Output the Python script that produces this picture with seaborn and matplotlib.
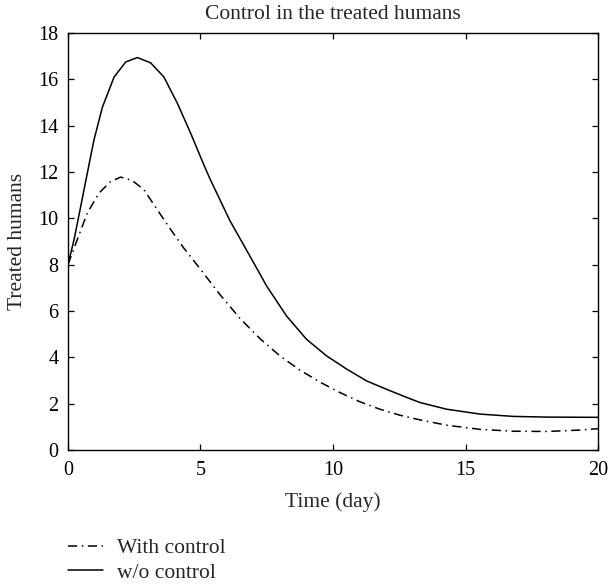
import matplotlib
matplotlib.use("Agg")
from matplotlib import pyplot as plt
import pandas as pd
import seaborn as sns

sns.set_style("ticks")
plt.rcParams["font.family"] = ["Liberation Serif", "DejaVu Serif"]

# values
with_time = [0, 0.35, 0.73, 1.17, 1.61, 1.99, 2.43, 2.87, 3.37, 3.88, 4.38, 5.0, 5.74,
             6.49, 7.25, 8.0, 8.75, 9.51, 10.26, 11.02, 11.77, 12.53, 13.28, 14.29,
             15.55, 16.8, 18.06, 19.32, 20]
with_control = [8.0, 9.08, 10.23, 11.09, 11.59, 11.78, 11.63, 11.23, 10.37, 9.51, 8.7, 7.8, 6.7,
                5.68, 4.8, 4.06, 3.45, 2.93, 2.48, 2.08, 1.76, 1.5, 1.3, 1.07,
                0.89, 0.81, 0.8, 0.86, 0.92]
without_time = [0, 0.23, 0.48, 0.73, 0.98, 1.30, 1.74, 2.18, 2.62, 3.12, 3.62, 4.13, 4.63,
                5.13, 5.36, 6.11, 6.87, 7.5, 8.25, 9.0, 9.76, 10.52, 11.27, 12.02, 12.78,
                13.28, 14.29, 15.55, 16.8, 18.06, 20]
without_control = [8.0, 9.08, 10.51, 11.95, 13.38, 14.8, 16.1, 16.75, 16.94, 16.71, 16.1, 14.96, 13.67,
                   12.3, 11.7, 9.9, 8.36, 7.07, 5.78, 4.78, 4.06, 3.49, 2.98, 2.62, 2.27,
                   2.05, 1.76, 1.55, 1.45, 1.42, 1.41]
x_ticks = [0, 5, 10, 15, 20]
y_ticks = [0, 2, 4, 6, 8, 10, 12, 14, 16, 18]

df_with = pd.DataFrame({"time": with_time, "value": with_control})
df_without = pd.DataFrame({"time": without_time, "value": without_control})

fig = plt.figure(figsize=(6.08, 5.87), dpi=100)
ax = fig.add_axes([0.1118, 0.2334, 0.8718, 0.7104])

sns.lineplot(data=df_with, x="time", y="value", color="black", linewidth=1.1,
             label="With control", ax=ax)
sns.lineplot(data=df_without, x="time", y="value", color="black", linewidth=1.1,
             label="w/o control", ax=ax)
ax.lines[0].set_dashes([6, 3, 1, 3])

ax.set_xlim(0, 20)
ax.set_ylim(0, 18)
ax.set_xticks(x_ticks)
ax.set_yticks(y_ticks)
ax.tick_params(direction="in", length=4, width=0.9, top=True, right=True,
               labelsize=14.5, colors="black")
ax.tick_params(axis="x", pad=8)
ax.tick_params(axis="y", pad=7)
for s in ax.spines.values():
    s.set_linewidth(1.0)
    s.set_color("black")

ax.set_title("Control in the treated humans", fontsize=15.5, pad=10)
ax.set_xlabel("Time (day)", fontsize=15.5, labelpad=9)
ax.set_ylabel("Treated humans", fontsize=15.5, labelpad=8)

ax.legend(loc="upper left", bbox_to_anchor=(0.1118, 0.083), bbox_transform=fig.transFigure,
          frameon=False, fontsize=15.5, handlelength=1.65, handletextpad=0.65,
          labelspacing=0.2, borderaxespad=0, borderpad=0)

fig.savefig("out.png", dpi=100)
plt.close()
